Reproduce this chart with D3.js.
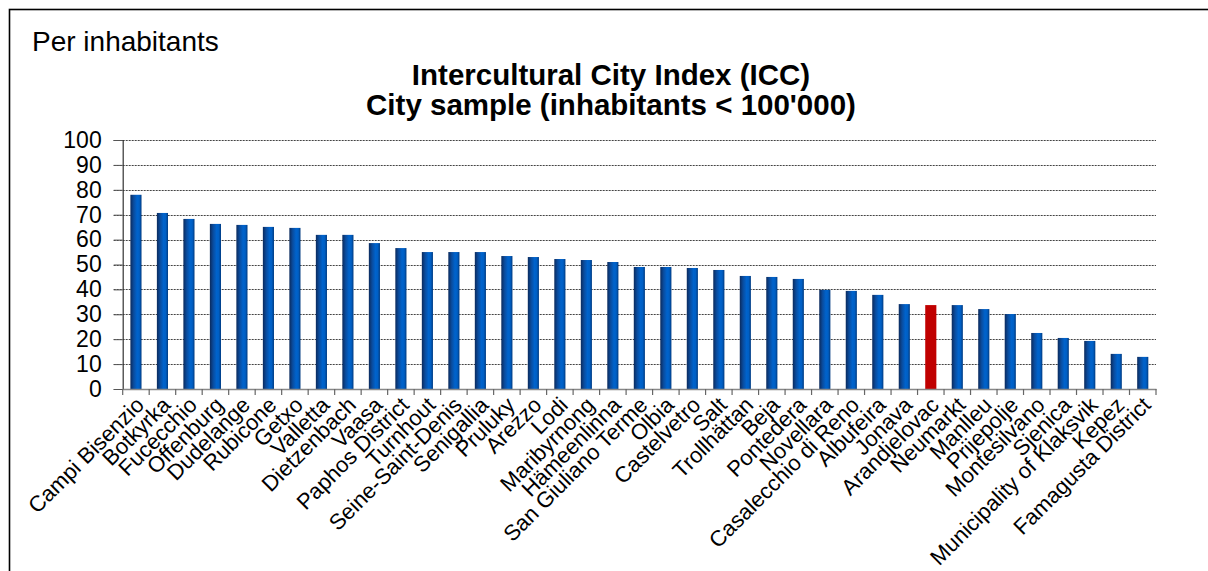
<!DOCTYPE html>
<html>
<head>
<meta charset="utf-8">
<script src="https://cdn.jsdelivr.net/npm/d3@7"></script>
<style>
  html, body { margin: 0; padding: 0; background: #fff; }
  svg { display: block; font-family: Arial, "Liberation Sans", sans-serif; }
</style>
</head>
<body>
<svg id="chart" width="1208" height="571"></svg>
<script>
const categories = ["Campi Bisenzio","Botkyrka","Fucecchio","Offenburg","Dudelange","Rubicone","Getxo","Valletta","Dietzenbach","Vaasa","Paphos District","Turnhout","Seine-Saint-Denis","Senigallia","Pruluky","Arezzo","Lodi","Maribyrnong","Hämeenlinna","San Giuliano Terme","Olbia","Castelvetro","Salt","Trollhättan","Beja","Pontedera","Novellara","Casalecchio di Reno","Albufeira","Jonava","Arandjelovac","Neumarkt","Manlleu","Prijepolje","Montesilvano","Sjenica","Municipality of Klaksvik","Kepez","Famagusta District"];
const values = [78,70.7,68.3,66.3,65.9,65.1,64.7,61.9,61.9,58.6,56.6,55,55,55,53.4,53,52.2,51.8,51,49,49,48.6,47.8,45.4,45,44.2,39.8,39.4,37.8,34.1,33.7,33.7,32.1,30.1,22.5,20.5,19.3,14.1,12.9];
const highlighted = ["Arandjelovac"];
const yTicks = [0,10,20,30,40,50,60,70,80,90,100];
const titleLines = ["Intercultural City Index (ICC)", "City sample (inhabitants < 100'000)"];
const cornerLabel = "Per inhabitants";

(function () {
const svg = d3.select("#chart");
const data = categories.map((c, i) => ({ name: c, value: values[i] }));

const defs = svg.append("defs");
const grad = defs.append("linearGradient").attr("id", "barGrad").attr("x1", "0%").attr("x2", "100%").attr("y1", "0%").attr("y2", "0%");
[["0%","#0b2a5c"],["30%","#0a4c9e"],["60%","#0063cc"],["80%","#005fc4"],["100%","#003a80"]].forEach(([o,c]) =>
  grad.append("stop").attr("offset", o).attr("stop-color", c));

svg.append("rect").attr("x", 9.5).attr("y", 9.5).attr("width", 1400).attr("height", 800)
  .attr("fill", "none").attr("stroke", "#000").attr("stroke-width", 1.6);

const pL = 122.7, pR = 1156, pT = 140, pB = 389;
const x = d3.scaleBand().domain(categories).range([pL, pR]).paddingInner(0.58).paddingOuter(0.29);
const y = d3.scaleLinear().domain([0, 100]).range([pB, pT]);

svg.append("g").selectAll("line").data(yTicks.filter(t => t > 0)).join("line")
  .attr("x1", pL - 9).attr("x2", pR)
  .attr("y1", d => Math.round(y(d)) + 0.5).attr("y2", d => Math.round(y(d)) + 0.5)
  .attr("stroke", "#444").attr("stroke-width", 1).attr("stroke-dasharray", "2,1");

svg.append("g").selectAll("rect").data(data).join("rect")
  .attr("x", d => x(d.name)).attr("width", x.bandwidth())
  .attr("y", d => y(d.value)).attr("height", d => y(0) - y(d.value))
  .attr("fill", d => highlighted.includes(d.name) ? "#c00000" : "url(#barGrad)");

const yAxis = d3.axisLeft(y).tickValues(yTicks).tickSize(9).tickPadding(12);
const gy = svg.append("g").attr("transform", `translate(${pL},0)`).call(yAxis);
gy.select(".domain").attr("stroke", "#333").attr("stroke-width", 1.2);
gy.selectAll(".tick line").attr("stroke", "#555");
gy.selectAll(".tick text").attr("font-size", 23).attr("fill", "#000").attr("font-family", "Arial, 'Liberation Sans', sans-serif");

const xAxis = d3.axisBottom(x).tickSize(0).tickFormat("");
const gx = svg.append("g").attr("transform", `translate(0,${pB})`).call(xAxis);
gx.select(".domain").attr("stroke", "#888").attr("stroke-width", 1.5);
const step = x.step();
const boundaries = d3.range(categories.length + 1).map(i => pL + i * step);
gx.append("g").selectAll("line").data(boundaries).join("line")
  .attr("x1", d => d).attr("x2", d => d).attr("y1", 0).attr("y2", 6)
  .attr("stroke", "#666").attr("stroke-width", 1.2);

svg.append("g").selectAll("text").data(categories).join("text")
  .attr("transform", d => `translate(${x(d) + x.bandwidth() / 2 + 4},${pB + 12}) rotate(-45)`)
  .attr("text-anchor", "end").attr("dy", "0.35em")
  .attr("font-size", 22).attr("fill", "#000")
  .text(d => d);

svg.append("text").attr("x", 32).attr("y", 51).attr("font-size", 28).attr("fill", "#000").text(cornerLabel);
svg.append("g").selectAll("text").data(titleLines).join("text")
  .attr("x", 611).attr("y", (d, i) => 85 + i * 30)
  .attr("text-anchor", "middle").attr("font-size", 29.5).attr("font-weight", "bold").attr("fill", "#000")
  .text(d => d);
})();
</script>
</body>
</html>
